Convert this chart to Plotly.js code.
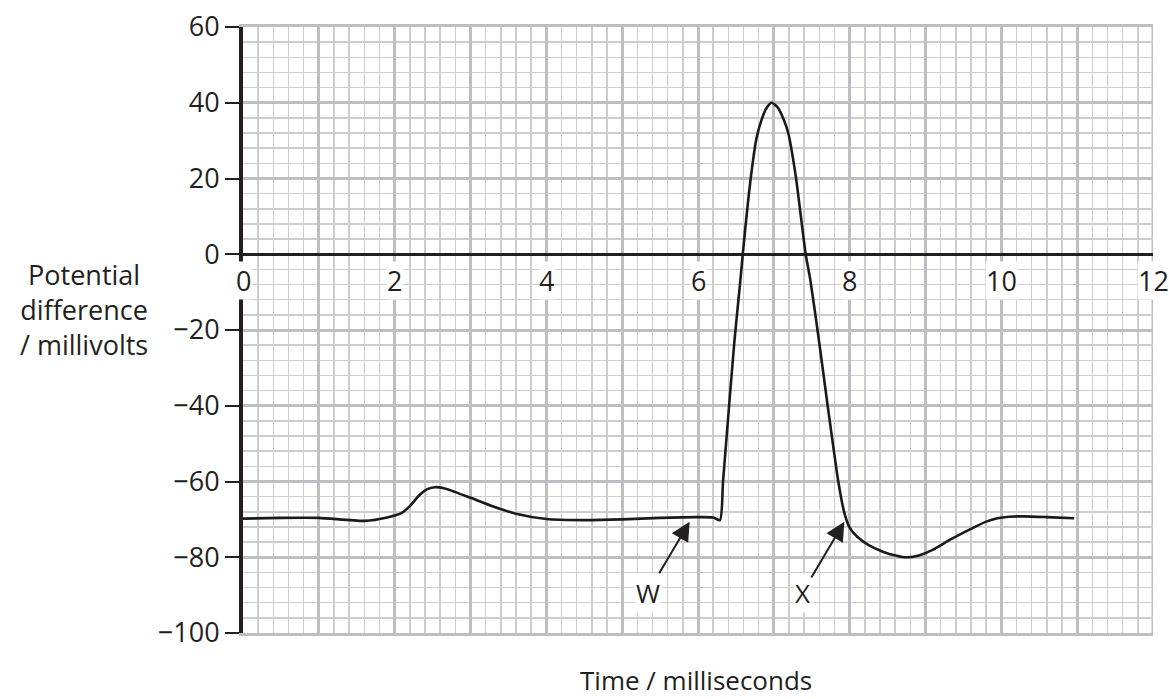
<!DOCTYPE html>
<html>
<head>
<meta charset="utf-8">
<script src="https://cdn.plot.ly/plotly-3.0.1.min.js"></script>
<style>html,body{margin:0;padding:0;background:#fff;}#chart{width:1169px;height:699px;}</style>
</head>
<body>
<div id="chart"></div>
<script>
// Time in milliseconds
const time = [0, 0.5, 1.0, 1.6, 1.9, 2.1, 2.2, 2.33, 2.43, 2.53, 2.65, 2.8, 3.0, 3.3, 3.6, 4.0, 4.5, 5.0, 5.5, 6.0, 6.2, 6.29,
  6.33, 6.41, 6.48, 6.56, 6.59, 6.695, 6.77, 6.84, 6.9, 6.97, 7.05, 7.13, 7.19, 7.29, 7.42, 7.48, 7.6, 7.71, 7.85, 7.93,
  8.0, 8.1, 8.25, 8.4, 8.55, 8.73, 8.9, 9.1, 9.33, 9.6, 9.8, 9.95, 10.1, 10.3, 10.6, 10.96];
// Potential difference in millivolts
const potential = [-69.8, -69.6, -69.6, -70.4, -69.5, -68.2, -66.5, -63.5, -62, -61.5, -61.8, -62.8, -64.3, -66.6, -68.5, -69.9, -70.2, -70.0, -69.6, -69.4, -69.5, -70.2,
  -60, -40, -23, -6.6, 0, 20, 30.5, 35.6, 38.5, 40, 38.8, 35.6, 32, 20.5, 0, -6.6, -23.5, -40, -60, -68.3,
  -72.2, -74.6, -76.8, -78.2, -79.3, -80, -79.6, -78, -75.3, -72.5, -70.6, -69.7, -69.3, -69.2, -69.4, -69.7];

const xTickVals = [0, 2, 4, 6, 8, 10, 12];
const xTickText = ['0', '2', '4', '6', '8', '10', '12'];

const pointerLabels = ['W', 'X'];
const pointerTime = [5.89, 7.93];
const pointerValue = [-70.6, -70.6];

const FONT = 'Open Sans, Noto Sans, sans-serif';
const TXT = '#231f20';
const MAJOR = '#bfbfc3';
const MINOR = '#cdcdd0';

const annotations = [];
xTickVals.forEach((v, i) => {
  annotations.push({
    x: v, y: -7, xref: 'x', yref: 'y', text: xTickText[i], showarrow: false,
    xanchor: 'center', yanchor: 'middle', bgcolor: '#ffffff', borderpad: 0,
    font: {family: FONT, size: 27, color: TXT}
  });
});
pointerLabels.forEach((t, i) => {
  annotations.push({
    x: pointerTime[i], y: pointerValue[i], xref: 'x', yref: 'y', text: t,
    showarrow: true, ax: -42, ay: 71, arrowhead: 2, arrowsize: 1.9, arrowwidth: 2,
    arrowcolor: TXT, bgcolor: '#ffffff', borderpad: 1,
    font: {family: FONT, size: 26, color: TXT}
  });
});
annotations.push({
  x: 84, y: 309, xref: 'paper', yref: 'paper', text: 'Potential<br>difference<br>/ millivolts',
  showarrow: false, xanchor: 'center', yanchor: 'middle', align: 'center',
  font: {family: FONT, size: 27, color: TXT}
});
annotations.push({
  x: 696, y: 680, text: 'Time / milliseconds', showarrow: false,
  xanchor: 'center', yanchor: 'middle', font: {family: FONT, size: 26, color: TXT}
});

// convert pixel-placed paper annotations
const L = 243, R = 16, T = 27, B = 66, W = 1169, H = 699;
annotations.forEach(a => {
  if (a.xref === 'paper' || a.xref === undefined) {
    if (a.xref === undefined) { a.xref = 'paper'; a.yref = 'paper'; }
    a.x = (a.x - L) / (W - L - R);
    a.y = (H - B - a.y) / (H - T - B);
  }
});

const trace = {
  x: time, y: potential, type: 'scatter', mode: 'lines',
  line: {color: '#1a1a1a', width: 2.6, shape: 'spline', smoothing: 0.6},
  hoverinfo: 'skip'
};

const layout = {
  width: W, height: H,
  margin: {l: L, r: R, t: T, b: B},
  paper_bgcolor: '#ffffff', plot_bgcolor: '#ffffff',
  showlegend: false,
  xaxis: {
    range: [0, 12], dtick: 1, tick0: 0, showticklabels: false, ticks: '',
    showgrid: true, gridcolor: MAJOR, gridwidth: 3,
    minor: {dtick: 0.2, tick0: 0, showgrid: true, gridcolor: MINOR, gridwidth: 1.5},
    zeroline: false, showline: true, mirror: true, linecolor: MAJOR, linewidth: 3,
    fixedrange: true
  },
  yaxis: {
    range: [-100, 60], dtick: 20, tick0: 0, ticks: 'outside', ticklen: 14, tickwidth: 2,
    tickcolor: TXT, tickfont: {family: FONT, size: 27, color: TXT},
    showgrid: true, gridcolor: MAJOR, gridwidth: 3,
    minor: {dtick: 4, tick0: 0, showgrid: true, gridcolor: MINOR, gridwidth: 1.5},
    zeroline: true, zerolinecolor: TXT, zerolinewidth: 2.5,
    showline: true, linecolor: TXT, linewidth: 4,
    fixedrange: true
  },
  shapes: [
    {type: 'line', xref: 'x', yref: 'paper', x0: 12, x1: 12, y0: 0, y1: 1, line: {color: MAJOR, width: 3}, layer: 'below'}
  ],
  annotations: annotations
};

Plotly.newPlot('chart', [trace], layout, {displayModeBar: false, staticPlot: true});
</script>
</body>
</html>
